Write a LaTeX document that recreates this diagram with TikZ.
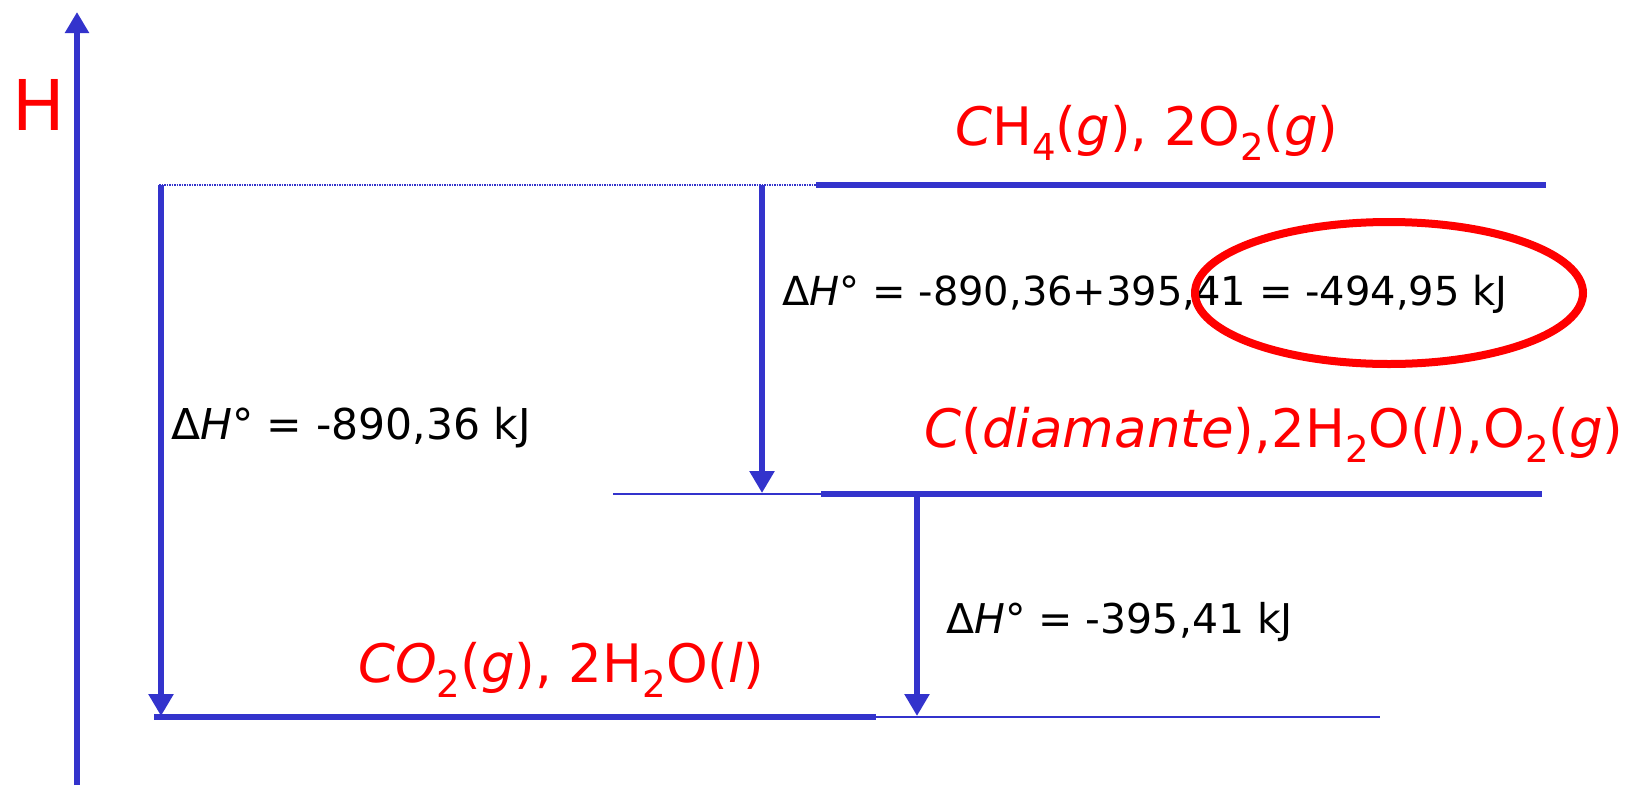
\documentclass[tikz,border=0pt]{standalone}
\usepackage{fontspec}
\setmainfont{DejaVu Sans}
\usetikzlibrary{arrows.meta,shapes.geometric}
\definecolor{lvlblue}{RGB}{51,51,204}
\definecolor{labred}{RGB}{255,0,0}
% lowered, reduced digits for chemical formulas
\newcommand{\chemsub}[1]{\raisebox{-0.28em}{\scalebox{0.7}{#1}}}
% enthalpy symbol
\newcommand{\dH}{Δ\textit{H}°}

\begin{document}
\begin{tikzpicture}[x=1pt,y=-1pt,
  axisline/.style={draw=lvlblue, line width=6.5pt, -{Triangle[length=21pt,width=23pt]}},
  level/.style={draw=lvlblue, line width=6pt},
  thinlevel/.style={draw=lvlblue, line width=1.6pt},
  guide/.style={draw=lvlblue, line width=1.5pt, densely dotted},
  stepline/.style={draw=lvlblue, line width=5.5pt, -{Triangle[length=22pt,width=24pt]}},
  chem/.style={text=labred, font=\fontsize{53}{60}\selectfont, inner sep=0pt},
  dh/.style={text=black, font=\fontsize{41}{48}\selectfont, inner sep=0pt, anchor=west},
  highlight/.style={draw=labred, line width=8pt, ellipse, inner sep=0pt}
]
\useasboundingbox (0,0) rectangle (1630,785);

% enthalpy axis
\coordinate (axB) at (77,785);
\coordinate (axT) at (77,12);
\draw[axisline] (axB) -- (axT);
\node[text=labred, font=\fontsize{70}{80}\selectfont, inner sep=0pt] (hlab) at (39,105) {H};

% level points
\coordinate (tL) at (159,185);
\coordinate (tM) at (816,185);
\coordinate (tR) at (1546,185);
\coordinate (mL) at (613,494);
\coordinate (mM) at (821,494);
\coordinate (mR) at (1542,494);
\coordinate (bL) at (154,717);
\coordinate (bM) at (876,717);
\coordinate (bR) at (1380,717);

% arrow ends
\coordinate (a1s) at (161,185);
\coordinate (a1e) at (161,716);
\coordinate (a2s) at (762,185);
\coordinate (a2e) at (762,493);
\coordinate (a3s) at (917,494);
\coordinate (a3e) at (917,716);

% energy levels
\draw[guide] (tL) -- (tM);
\draw[level] (tM) -- (tR);
\draw[thinlevel] (mL) -- (mM);
\draw[level] (mM) -- (mR);
\draw[level] (bL) -- (bM);
\draw[thinlevel] (bM) -- (bR);

% enthalpy changes
\draw[stepline] (a1s) -- (a1e);
\draw[stepline] (a2s) -- (a2e);
\draw[stepline] (a3s) -- (a3e);

% species
\node[chem] (top) at (1147,133) {\textit{C}H\chemsub{4}(\textit{g}), 2O\chemsub{2}(\textit{g})};
\node[chem] (mid) at (1274,435) {\textit{C}(\textit{diamante}),2H\chemsub{2}O(\textit{l}),O\chemsub{2}(\textit{g})};
\node[chem] (bot) at (561,670) {\textit{CO}\chemsub{2}(\textit{g}), 2H\chemsub{2}O(\textit{l})};

% enthalpy values
\node[dh, font=\fontsize{42.5}{48}\selectfont] (dh1) at (171,428) {\dH{} = -890,36 kJ};
\node[dh, font=\fontsize{40}{48}\selectfont] (dh2) at (782,294) {\dH{} = -890,36+395,41 = -494,95 kJ};
\node[dh] (dh3) at (946,622) {\dH{} = -395,41 kJ};

% circled result
\node[highlight, minimum width=388pt, minimum height=142pt] (res) at (1389,293) {};
\end{tikzpicture}
\end{document}
